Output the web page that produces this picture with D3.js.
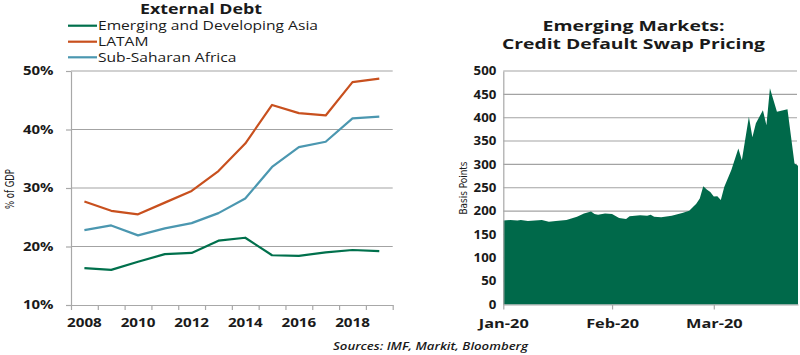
<!DOCTYPE html>
<html>
<head>
<meta charset="utf-8">
<script src="https://cdn.jsdelivr.net/npm/d3@7"></script>
<style>
  html, body { margin: 0; padding: 0; background: #fff; }
  svg { display: block; font-family: "Open Sans", sans-serif; }
</style>
</head>
<body>
<svg id="chart" width="800" height="355"></svg>
<script>
// ---------- Data ----------
const years = [2008, 2009, 2010, 2011, 2012, 2013, 2014, 2015, 2016, 2017, 2018, 2019];
const labelYears = [2008, 2010, 2012, 2014, 2016, 2018];
const edaValues   = [16.3, 16.0, 17.4, 18.7, 18.9, 21.0, 21.5, 18.5, 18.4, 19.0, 19.4, 19.2];
const latamValues = [27.7, 26.1, 25.5, 27.5, 29.5, 32.9, 37.6, 44.2, 42.8, 42.4, 48.1, 48.7];
const ssaValues   = [22.8, 23.6, 21.9, 23.1, 24.0, 25.7, 28.2, 33.6, 37.0, 37.9, 41.9, 42.2];
const seriesNames = ["Emerging and Developing Asia", "LATAM", "Sub-Saharan Africa"];
const debtTicks = [10, 20, 30, 40, 50];

const cdsDates = [
  "2020-01-01","2020-01-03","2020-01-05","2020-01-06","2020-01-08","2020-01-10","2020-01-12",
  "2020-01-14","2020-01-16","2020-01-19","2020-01-22","2020-01-24","2020-01-26","2020-01-27",
  "2020-01-28","2020-01-30","2020-02-01","2020-02-03","2020-02-05","2020-02-06","2020-02-09",
  "2020-02-11","2020-02-12","2020-02-13","2020-02-15","2020-02-18","2020-02-21","2020-02-23",
  "2020-02-24","2020-02-25","2020-02-26","2020-02-27","2020-02-28","2020-02-29","2020-03-01",
  "2020-03-02","2020-03-03","2020-03-04","2020-03-06","2020-03-08","2020-03-09","2020-03-11",
  "2020-03-12","2020-03-13","2020-03-15","2020-03-16","2020-03-17","2020-03-19","2020-03-22",
  "2020-03-24","2020-03-25"
];
const cdsValues = [
  180, 181, 180, 181, 179, 180, 181,
  177, 179, 181, 188, 195, 199, 194,
  192, 195, 194, 185, 183, 189, 191,
  190, 192, 188, 187, 190, 196, 201,
  208, 216, 227, 253, 246, 241, 231,
  232, 224, 252, 288, 334, 309, 402,
  358, 388, 416, 384, 463, 413, 418,
  302, 297
];
const cdsTicks = [0, 50, 100, 150, 200, 250, 300, 350, 400, 450, 500];
const cdsMonthTicks = ["2020-01-01", "2020-02-01", "2020-03-01"];

// ---------- Styles ----------
const colors = { eda: "#00704C", latam: "#C8501E", ssa: "#4B97B0", area: "#00694A" };
const gridColor = "#A3A3A3";
const axisColor = "#A8A8A8";
const textColor = "#1A1A1A";

const svg = d3.select("#chart");

function stretch(sel, k) {
  sel.each(function () {
    const w = this.getComputedTextLength();
    d3.select(this).attr("textLength", w * k).attr("lengthAdjust", "spacingAndGlyphs");
  });
}
function label(g, str, x, y, opts) {
  const t = g.append("text")
    .attr("x", x).attr("y", y)
    .attr("text-anchor", opts.anchor || "middle")
    .attr("font-size", opts.size)
    .attr("font-weight", opts.weight || 400)
    .attr("font-style", opts.style || "normal")
    .attr("fill", textColor)
    .text(str);
  if (opts.family) t.attr("font-family", opts.family);
  if (opts.rotate) t.attr("transform", `rotate(${opts.rotate},${x},${y})`);
  if (opts.width) t.attr("textLength", opts.width).attr("lengthAdjust", "spacingAndGlyphs");
  return t;
}

// ================= LEFT: External Debt =================
const L = { x0: 71, x1: 392.7, y0: 305, y1: 71 };
const xBand = d3.scaleBand().domain(years).range([L.x0, L.x1]).padding(0);
const xEdge = d3.scaleLinear().domain([0, years.length]).range([L.x0, L.x1]);
const yL = d3.scaleLinear().domain([10, 50]).range([L.y0, L.y1]);

const gL = svg.append("g");

gL.append("g").selectAll("line").data(debtTicks.filter(d => d > 10)).join("line")
  .attr("x1", L.x0).attr("x2", L.x1)
  .attr("y1", d => yL(d)).attr("y2", d => yL(d))
  .attr("stroke", gridColor).attr("stroke-width", 1.1);

const yAxisL = gL.append("g").attr("transform", `translate(${L.x0},0)`)
  .call(d3.axisLeft(yL).tickValues(debtTicks).tickSize(5).tickSizeOuter(0).tickPadding(12.5)
    .tickFormat(d => d + "%"));
yAxisL.select(".domain").attr("stroke", axisColor).attr("stroke-width", 1.2);
yAxisL.selectAll(".tick line").attr("stroke", axisColor).attr("stroke-width", 1.2);
yAxisL.selectAll(".tick text").attr("font-size", 11.5).attr("font-weight", 700)
  .attr("fill", textColor).attr("font-family", "Open Sans");
stretch(yAxisL.selectAll(".tick text"), 1.3);

const xEdgeAxis = gL.append("g").attr("transform", `translate(0,${L.y0})`)
  .call(d3.axisBottom(xEdge).tickValues(d3.range(years.length + 1)).tickSize(5).tickSizeOuter(0).tickFormat(""));
xEdgeAxis.select(".domain").attr("stroke", axisColor).attr("stroke-width", 1.2);
xEdgeAxis.selectAll(".tick line").attr("stroke", axisColor).attr("stroke-width", 1.2);

const xLabAxis = gL.append("g").attr("transform", `translate(0,${L.y0})`)
  .call(d3.axisBottom(xBand).tickValues(labelYears).tickSize(0));
xLabAxis.select(".domain").remove();
xLabAxis.selectAll(".tick text").attr("y", 21.7).attr("dy", 0)
  .attr("font-size", 11.5).attr("font-weight", 700).attr("fill", textColor).attr("font-family", "Open Sans");
stretch(xLabAxis.selectAll(".tick text"), 1.32);

const lineGen = d3.line().x((d, i) => xBand(years[i]) + xBand.bandwidth() / 2).y(d => yL(d));
[[edaValues, colors.eda], [latamValues, colors.latam], [ssaValues, colors.ssa]].forEach(([vals, c]) => {
  gL.append("path").datum(vals).attr("d", lineGen)
    .attr("fill", "none").attr("stroke", c).attr("stroke-width", 2.2)
    .attr("stroke-linejoin", "round");
});

label(gL, "External Debt", 201, 14, { size: 14, weight: 700, width: 122 });

const legendColors = [colors.eda, colors.latam, colors.ssa];
const legendY = [25.7, 41.7, 57.3];
seriesNames.forEach((name, i) => {
  gL.append("line").attr("x1", 68).attr("x2", 97)
    .attr("y1", legendY[i]).attr("y2", legendY[i])
    .attr("stroke", legendColors[i]).attr("stroke-width", 2.2);
  const t = label(gL, name, 98, legendY[i] + 4.4, { size: 12, anchor: "start" });
  stretch(t, 1.3);
});

label(gL, "% of GDP", 13.5, 189, { size: 13, rotate: -90, width: 40, family: "Liberation Sans Narrow, DejaVu Sans Condensed, Open Sans" });

// ================= RIGHT: CDS =================
const R = { x0: 503.3, x1: 798, y0: 304.5, y1: 71 };
const parse = d3.timeParse("%Y-%m-%d");
const cdsData = cdsDates.map((d, i) => ({ date: parse(d), value: cdsValues[i] }));
const xT = d3.scaleTime().domain([parse("2020-01-01"), parse("2020-03-25")]).range([R.x0, R.x1]);
const yR = d3.scaleLinear().domain([0, 500]).range([R.y0, R.y1]);

const gR = svg.append("g");

gR.append("g").selectAll("line").data(cdsTicks.filter(d => d > 0)).join("line")
  .attr("x1", R.x0).attr("x2", 797)
  .attr("y1", d => yR(d)).attr("y2", d => yR(d))
  .attr("stroke", gridColor).attr("stroke-width", 1.1);

const areaGen = d3.area().x(d => xT(d.date)).y0(yR(0)).y1(d => yR(d.value));
gR.append("path").datum(cdsData).attr("d", areaGen).attr("fill", colors.area);

const yAxisR = gR.append("g").attr("transform", `translate(${R.x0},0)`)
  .call(d3.axisLeft(yR).tickValues(cdsTicks).tickSize(0).tickSizeOuter(0).tickPadding(7));
yAxisR.select(".domain").attr("stroke", axisColor).attr("stroke-width", 1.2);
yAxisR.selectAll(".tick text").attr("font-size", 11.5).attr("font-weight", 700)
  .attr("fill", textColor).attr("font-family", "Open Sans");
stretch(yAxisR.selectAll(".tick text"), 1.15);

const xAxisR = gR.append("g").attr("transform", `translate(0,${R.y0})`)
  .call(d3.axisBottom(xT).tickValues(cdsMonthTicks.map(parse)).tickSize(5).tickSizeOuter(0)
    .tickFormat(d3.timeFormat("%b-%y")));
xAxisR.select(".domain").attr("stroke", axisColor).attr("stroke-width", 1.2);
xAxisR.selectAll(".tick line").attr("stroke", axisColor).attr("stroke-width", 1.2);
xAxisR.selectAll(".tick text").attr("y", 23.5).attr("dy", 0)
  .attr("font-size", 11.5).attr("font-weight", 700).attr("fill", textColor).attr("font-family", "Open Sans");
stretch(xAxisR.selectAll(".tick text"), 1.42);

label(gR, "Emerging Markets:", 633.5, 30.5, { size: 14, weight: 700, width: 182 });
label(gR, "Credit Default Swap Pricing", 633.5, 48.5, { size: 14, weight: 700, width: 263 });
label(gR, "Basis Points", 467, 188, { size: 11, rotate: -90, width: 53, family: "Liberation Sans Narrow, DejaVu Sans Condensed, Open Sans" });

label(svg, "Sources: IMF, Markit, Bloomberg", 430.5, 350, { size: 10.5, weight: 600, style: "italic", width: 195 });
</script>
</body>
</html>
